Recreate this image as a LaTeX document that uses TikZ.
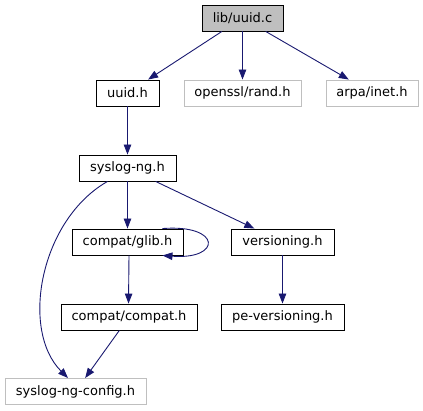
\documentclass[tikz,border=0pt]{standalone}
\usepackage{fontspec}
\setmainfont{DejaVu Sans}
\usetikzlibrary{arrows.meta,calc}
\definecolor{edgeblue}{RGB}{25,25,112}
\definecolor{extgray}{RGB}{191,191,191}
\begin{document}
\begin{tikzpicture}[x=1pt,y=-1pt,
  box/.style={draw=black,line width=0.9pt,minimum height=26pt,inner sep=0pt,font=\fontsize{13}{15}\selectfont,fill=white},
  mainbox/.style={box,fill=extgray},
  extbox/.style={box,draw=extgray},
  edge/.style={draw=edgeblue,line width=0.9pt,-{Triangle[length=10pt,width=7.5pt]}}]
\useasboundingbox (0,0) rectangle (423,411);
\node[mainbox,minimum width=81pt] (uuidc) at (242.5,18) {lib/uuid.c};
\node[box,minimum width=63pt] (uuidh) at (127.5,93) {uuid.h};
\node[extbox,minimum width=117pt] (rand) at (242.5,93) {openssl/rand.h};
\node[extbox,minimum width=92pt] (inet) at (372,93) {arpa/inet.h};
\node[box,minimum width=97pt] (syslog) at (127.5,168) {syslog-ng.h};
\node[box,minimum width=111pt] (glib) at (127.5,242) {compat/glib.h};
\node[box,minimum width=103pt] (vers) at (282.5,242) {versioning.h};
\node[box,minimum width=136pt] (compat) at (129,317) {compat/compat.h};
\node[box,minimum width=123pt] (pevers) at (282.5,317) {pe-versioning.h};
\node[extbox,minimum width=141pt] (config) at (75.5,391.5) {syslog-ng-config.h};
\coordinate (s1) at ([xshift=-20pt]syslog.south);
\coordinate (c1) at ([xshift=-7.5pt]config.north);

\draw[edge] (uuidc) -- (uuidh);
\draw[edge] (uuidc) -- (rand);
\draw[edge] (uuidc) -- (inet);
\draw[edge] (uuidh) -- (syslog);
\draw[edge] (syslog) -- (glib);
\draw[edge] (syslog) -- (vers);
\draw[edge] (s1) .. controls (40,220) and (20,330) .. (c1);
\draw[edge] ([xshift=-21pt]glib.north east) .. controls (222,224) and (222,260) .. ([xshift=-21pt]glib.south east);
\draw[edge] ([xshift=1.5pt]glib.south) -- ([xshift=-0.5pt]compat.north);
\draw[edge] (vers) -- (pevers);
\draw[edge] (compat) -- (config);
\end{tikzpicture}
\end{document}
